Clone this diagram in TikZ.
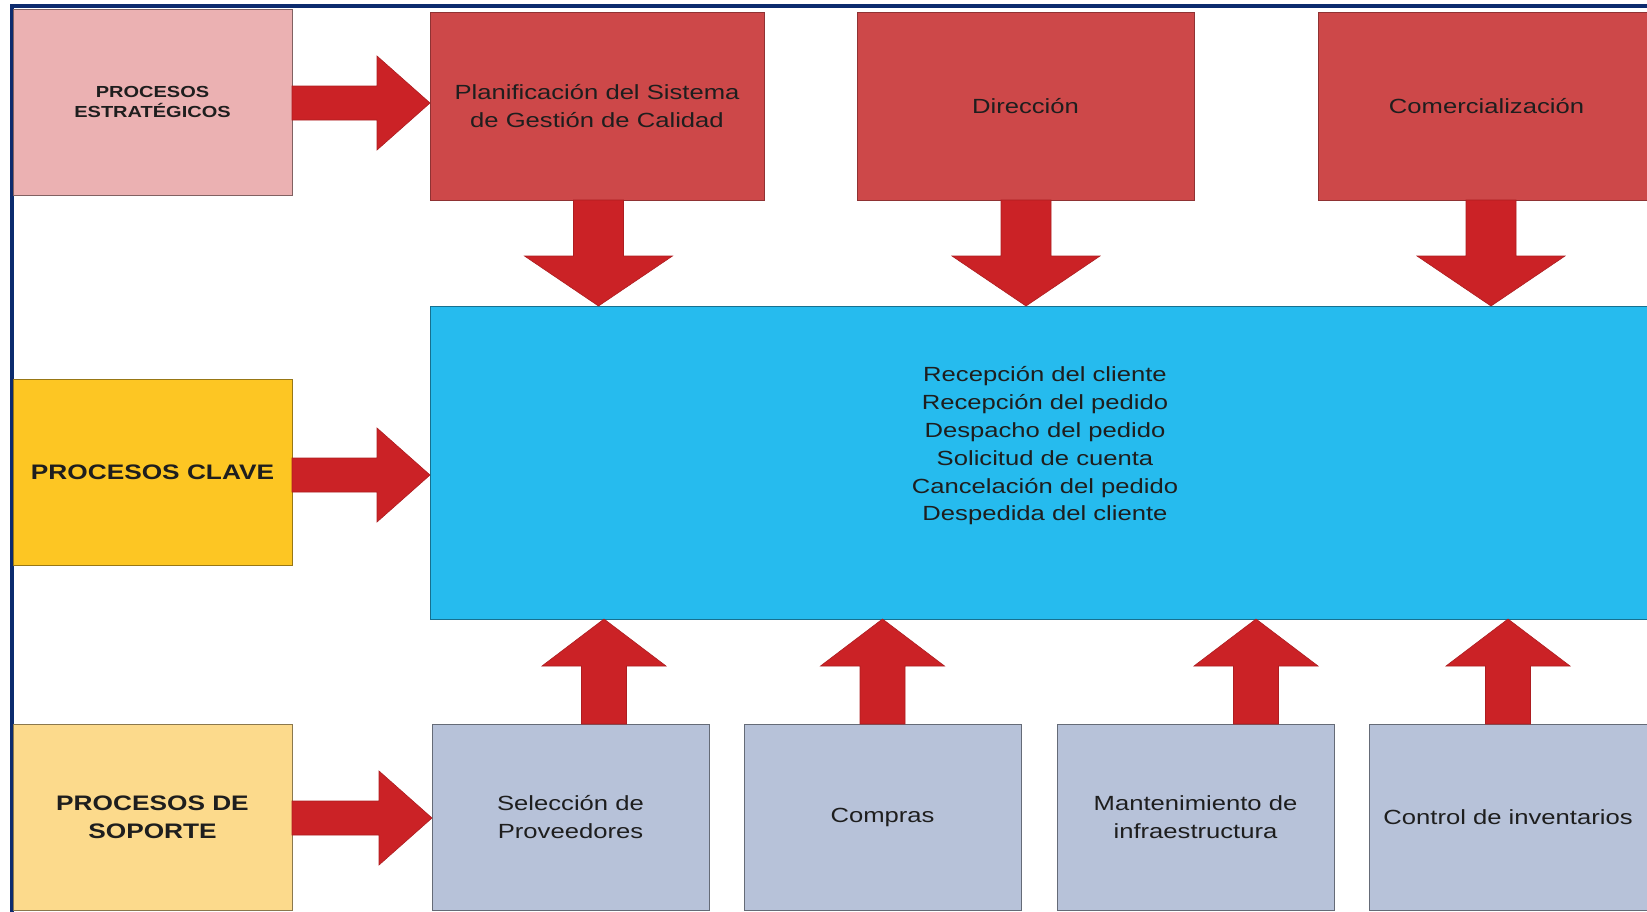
\documentclass[tikz,border=0pt]{standalone}
\usepackage{fontspec}
\usetikzlibrary{calc}
\newfontfamily\lab[FakeStretch=1.25]{Liberation Sans}

\definecolor{framenavy}{HTML}{0C2B6E}
\definecolor{estpink}{HTML}{EBB1B2}
\definecolor{estred}{HTML}{CD4849}
\definecolor{arrowred}{HTML}{CB2226}
\definecolor{claveblue}{HTML}{26BBEE}
\definecolor{claveyellow}{HTML}{FDC623}
\definecolor{soplight}{HTML}{FCDA8C}
\definecolor{sopgray}{HTML}{B7C2D9}
\definecolor{inkdark}{HTML}{1E1E1E}

\tikzset{
  box/.style={draw, line width=0.9pt, anchor=north west, inner sep=0pt, outer sep=0pt,
    align=center, text=inkdark, font=\lab\fontsize{20.5}{27.5}\selectfont},
  headbox/.style={box, font=\lab\bfseries\fontsize{21}{28}\selectfont},
  blockarrow/.style={fill=arrowred, draw=arrowred!85!black, line width=0.6pt, line join=miter},
}

% block arrow pointing down: source, target, x offset
\newcommand{\blkdown}[3]{%
  \path[blockarrow] let \p1=(#1.south), \p2=(#2.north) in
    (\x1+#3-25pt,\y1) -- (\x1+#3+25pt,\y1) -- (\x1+#3+25pt,\y2+50pt) -- (\x1+#3+74pt,\y2+50pt)
    -- (\x1+#3,\y2) -- (\x1+#3-74pt,\y2+50pt) -- (\x1+#3-25pt,\y2+50pt) -- cycle;}
% block arrow pointing up: source, target, x offset
\newcommand{\blkup}[3]{%
  \path[blockarrow] let \p1=(#1.north), \p2=(#2.south) in
    (\x1+#3-22.5pt,\y1) -- (\x1+#3+22.5pt,\y1) -- (\x1+#3+22.5pt,\y2-47pt) -- (\x1+#3+62pt,\y2-47pt)
    -- (\x1+#3,\y2) -- (\x1+#3-62pt,\y2-47pt) -- (\x1+#3-22.5pt,\y2-47pt) -- cycle;}
% block arrow pointing right: source, target, y offset
\newcommand{\blkright}[3]{%
  \path[blockarrow] let \p1=(#1.east), \p2=(#2.west) in
    (\x1,\y1+#3-17pt) -- (\x1,\y1+#3+17pt) -- (\x2-53pt,\y1+#3+17pt) -- (\x2-53pt,\y1+#3+47pt)
    -- (\x2,\y1+#3) -- (\x2-53pt,\y1+#3-47pt) -- (\x2-53pt,\y1+#3-17pt) -- cycle;}

\begin{document}
\begin{tikzpicture}[x=1pt,y=-1pt]
\useasboundingbox (0,0) rectangle (1647,911);
\fill[white] (0,0) rectangle (1647,911);

% outer frame
\draw[framenavy, line width=3.5pt] (11.75,5.75) rectangle (1700,1000);

% strategic level
\node[headbox, fill=estpink, draw=estpink!55!black, minimum width=279, minimum height=186,
      font=\lab\bfseries\fontsize{16}{20}\selectfont] (pe) at (13,9) {PROCESOS\\ESTRATÉGICOS};
\node[box, fill=estred, draw=estred!70!black, minimum width=334, minimum height=188] (plan) at (430,12)
  {Planificación del Sistema\\de Gestión de Calidad};
\node[box, fill=estred, draw=estred!70!black, minimum width=337, minimum height=188] (dir) at (857,12)
  {Dirección};
\node[box, fill=estred, draw=estred!70!black, minimum width=337, minimum height=188] (com) at (1318,12)
  {Comercialización};

% key level
\node[headbox, fill=claveyellow, draw=claveyellow!60!black, minimum width=279, minimum height=186] (pc) at (13,379)
  {PROCESOS CLAVE};
\node[box, fill=claveblue, draw=claveblue!60!black, minimum width=1230, minimum height=313] (clave) at (430,306) {};
\node[align=center, text=inkdark, font=\lab\fontsize{20.5}{27.8}\selectfont] (clavetxt) at (1045,446)
  {Recepción del cliente\\Recepción del pedido\\Despacho del pedido\\Solicitud de cuenta\\Cancelación del pedido\\Despedida del cliente};

% support level
\node[headbox, fill=soplight, draw=soplight!55!black, minimum width=279, minimum height=186] (ps) at (13,724)
  {PROCESOS DE\\SOPORTE};
\node[box, fill=sopgray, draw=sopgray!55!black, minimum width=277, minimum height=186] (sel) at (432,724)
  {Selección de\\Proveedores};
\node[box, fill=sopgray, draw=sopgray!55!black, minimum width=277, minimum height=186] (comp) at (744,724)
  {Compras};
\node[box, fill=sopgray, draw=sopgray!55!black, minimum width=277, minimum height=186] (mant) at (1057,724)
  {Mantenimiento de\\infraestructura};
\node[box, fill=sopgray, draw=sopgray!55!black, minimum width=278, minimum height=186] (ctrl) at (1369,724)
  {Control de inventarios};

% connectors
\blkright{pe}{plan}{-1pt}
\blkright{pc}{clave}{-3pt}
\blkright{ps}{sel}{-1pt}

\blkdown{plan}{clave}{1.5pt}
\blkdown{dir}{clave}{0.5pt}
\blkdown{com}{clave}{4.5pt}

\blkup{sel}{clave}{33.5pt}
\blkup{comp}{clave}{0pt}
\blkup{mant}{clave}{60.5pt}
\blkup{ctrl}{clave}{0pt}
\end{tikzpicture}
\end{document}
